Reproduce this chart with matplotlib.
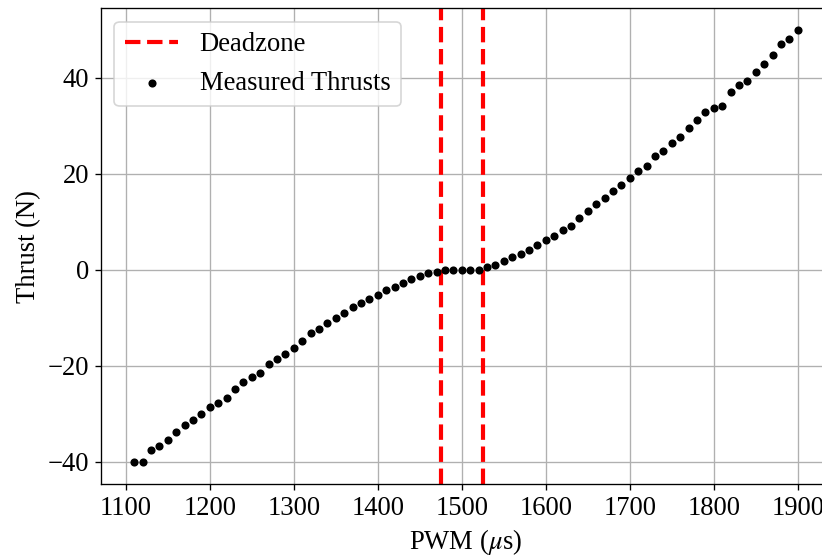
import numpy as np
import matplotlib
matplotlib.use("Agg")
import matplotlib.pyplot as plt

plt.rcParams['font.family'] = ['Liberation Serif', 'DejaVu Serif']
plt.rcParams['mathtext.fontset'] = 'stix'
plt.rcParams['font.size'] = 16

# measured thrust vs pwm (10 us steps)
pwm = np.arange(1110, 1901, 10)
thrust = [
    -40.1, -40.1, -37.6, -36.7, -35.5, -33.8, -32.4, -31.3, -30.1, -28.6,
    -27.7, -26.7, -24.9, -23.3, -22.3, -21.5, -19.6, -18.5, -17.5, -16.2,
    -14.8, -13.1, -12.3, -11.0, -10.1, -9.0, -7.85, -6.9, -6.1, -5.2,
    -4.3, -3.5, -2.85, -2.0, -1.2, -0.6, -0.4, -0.07, 0.0, 0.0,
    0.0, 0.0, 0.6, 1.04, 1.74, 2.57, 3.33, 4.1, 5.07, 6.25,
    6.94, 8.26, 9.17, 10.76, 12.15, 13.6, 14.93, 16.4, 17.64, 19.1,
    20.56, 21.67, 23.6, 24.65, 26.4, 27.64, 29.5, 31.25, 32.78, 33.75,
    34.17, 36.94, 38.54, 39.24, 41.1, 42.85, 44.72, 47.0, 47.99, 49.9,
]
deadzone = [1475, 1525]

fig = plt.figure(figsize=(822 / 120, 556 / 120), dpi=120)
ax = fig.add_axes([0.1229, 0.1295, 0.888, 0.8554])

for i, d in enumerate(deadzone):
    ax.axvline(d, color='red', linestyle='--', linewidth=2.5,
               label='Deadzone' if i == 0 else None)
ax.scatter(pwm, thrust, s=15, color='black', label='Measured Thrusts', zorder=3)

ax.set_xlabel(r'PWM ($\mu$s)')
ax.set_ylabel('Thrust (N)')
ax.set_xticks(np.arange(1100, 1901, 100))
ax.set_yticks([-40, -20, 0, 20, 40])
ax.grid(True)
ax.set_axisbelow(True)
ax.legend(loc='upper left')

fig.savefig('out.png', dpi=120)
